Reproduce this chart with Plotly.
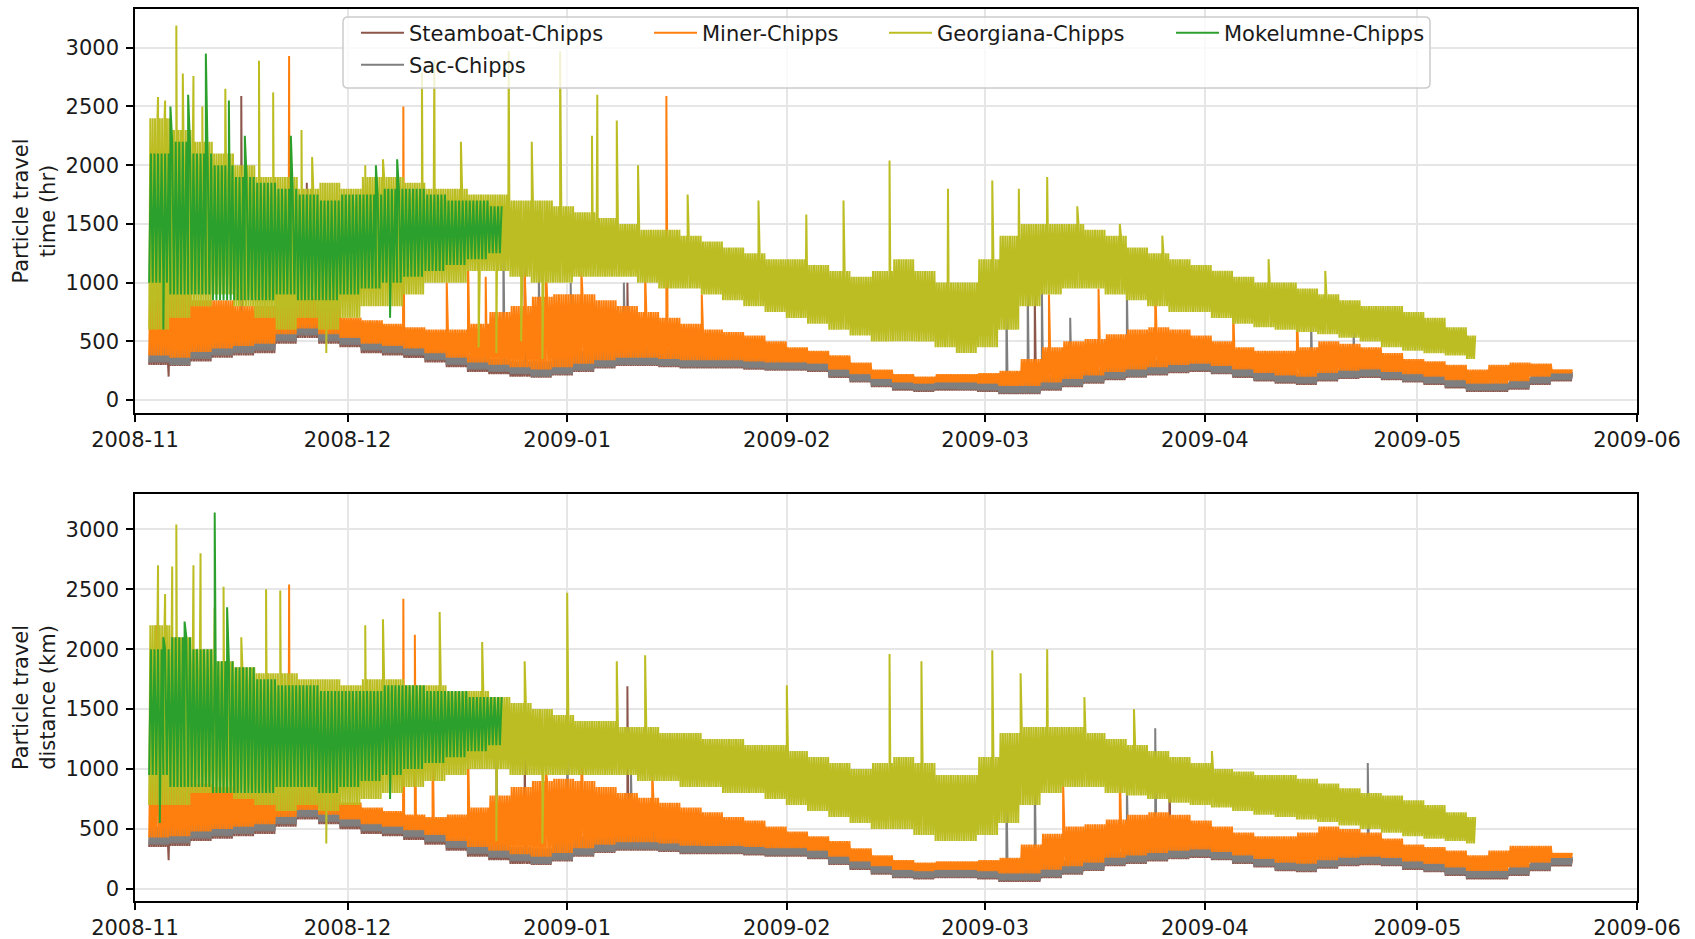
import pandas as pd
import plotly.graph_objects as go

# ---------------- data ----------------
# envelope values per 3-day block starting 2008-11-03 (low / high of the dense band)
block_start = "2008-11-03"
n_blocks = 67
# last timestamp of each record
series_end = ["2009-05-23 00:00", "2009-05-23 00:00", "2009-05-23 00:00", "2009-05-09 06:00", "2008-12-22 18:00"]

# ---- Particle travel time (hr) ----
sac_time_lo = [320,300,350,380,400,420,500,550,500,470,
               420,400,380,340,300,260,240,220,200,220,
               250,280,300,300,290,280,280,280,270,260,
               260,250,200,160,120,90,80,90,90,80,
               60,60,90,120,150,180,200,220,240,250,
               230,200,170,150,140,170,190,200,180,160,
               140,110,80,80,100,140,170]
sac_time_hi = [500,520,550,600,600,650,700,750,700,620,
               560,540,500,480,430,380,350,330,330,380,
               420,450,470,450,430,400,400,400,380,370,
               360,340,300,260,220,180,170,180,170,160,
               140,160,200,230,260,290,320,340,350,340,
               320,300,260,240,230,260,280,290,270,240,
               220,190,160,150,190,230,240]
steam_time_lo = [300,290,330,360,380,400,480,530,480,450,
                 400,380,360,320,280,240,220,200,190,210,
                 240,270,290,290,280,270,270,270,260,250,
                 250,240,190,150,110,80,70,80,80,70,
                 50,50,80,110,140,170,190,210,230,240,
                 220,190,160,140,130,160,180,190,170,150,
                 130,100,70,70,90,130,160]
steam_time_hi = [480,500,530,580,580,620,680,720,680,600,
                 540,520,480,460,410,360,330,310,310,360,
                 400,430,450,430,410,380,380,380,360,350,
                 340,320,280,240,200,160,150,160,150,140,
                 120,140,180,210,240,270,300,320,330,320,
                 300,280,240,220,210,240,260,270,250,220,
                 200,170,140,130,170,210,220]
miner_time_lo = [380,360,410,440,460,480,560,610,560,530,
                 480,460,440,400,360,320,300,280,260,280,
                 310,340,360,360,350,340,340,340,330,320,
                 320,310,260,220,180,150,140,150,150,140,
                 120,120,150,180,210,240,260,280,300,310,
                 290,260,230,210,200,230,250,260,240,220,
                 200,170,140,140,160,200,230]
miner_time_hi = [1000,900,850,850,800,800,850,880,800,700,
                 680,650,620,600,600,650,750,800,880,900,
                 900,850,800,750,700,650,600,580,550,500,
                 450,420,380,320,260,220,200,220,220,230,
                 250,350,450,500,520,560,600,620,600,550,
                 500,450,420,420,450,500,480,450,400,350,
                 330,300,260,300,320,310,260]
geo_time_lo = [600,700,800,900,800,700,600,700,600,700,
               800,800,900,1000,1000,1100,1100,1050,1000,1000,
               1050,1050,1050,1000,950,950,900,850,800,750,
               700,650,600,550,500,500,500,450,400,450,
               600,800,900,950,950,900,850,800,750,750,
               700,650,620,600,580,560,530,500,450,420,
               400,380,350]
geo_time_hi = [2400,2300,2200,2100,2000,1900,1900,1800,1850,1800,
               1900,1900,1850,1800,1800,1750,1750,1700,1700,1650,
               1600,1550,1500,1450,1450,1400,1350,1300,1250,1200,
               1200,1150,1100,1050,1100,1200,1100,1000,1000,1200,
               1400,1500,1500,1500,1450,1400,1300,1250,1200,1150,
               1100,1050,1000,1000,950,900,850,800,800,750,
               700,620,550]
mok_time_lo = [1000,900,900,850,850,850,900,850,850,900,
               950,1000,1050,1100,1150,1200,1250]
mok_time_hi = [2100,2200,2100,2000,1900,1850,1800,1750,1700,1750,
               1750,1800,1800,1750,1700,1700,1650]

# isolated excursions (timestamp, value)
steam_time_spk = [("2008-11-05 18:00", 200), ("2008-11-16 00:00", 2590), ("2008-11-25 06:00", 1850),
                  ("2008-12-26 00:00", 1150), ("2009-01-09 12:00", 1000), ("2009-03-08 00:00", 900)]
sac_time_spk = [("2008-12-23 00:00", 1350), ("2008-12-28 00:00", 1150), ("2009-01-01 12:00", 1000),
                ("2009-01-09 00:00", 1000), ("2009-03-04 00:00", 850), ("2009-03-07 00:00", 1000),
                ("2009-03-09 00:00", 950), ("2009-03-13 00:00", 700), ("2009-03-21 00:00", 950),
                ("2009-04-16 00:00", 700), ("2009-04-22 00:00", 600)]
miner_time_spk = [("2008-11-22 18:00", 2930), ("2008-12-08 21:00", 2500), ("2009-01-15 00:00", 2590),
                  ("2008-12-15 00:00", 1000), ("2008-12-18 00:00", 1200), ("2008-12-20 12:00", 1050),
                  ("2008-12-26 00:00", 1100), ("2008-12-29 00:00", 1150), ("2009-01-03 00:00", 1100),
                  ("2009-01-12 00:00", 1100), ("2009-01-20 00:00", 900), ("2009-03-10 00:00", 900),
                  ("2009-03-17 00:00", 950), ("2009-03-25 00:00", 1000), ("2009-04-05 00:00", 800),
                  ("2009-04-14 00:00", 750)]
geo_time_spk = [("2008-11-04 06:00", 2580), ("2008-11-05 06:00", 2550), ("2008-11-06 20:00", 3190),
                ("2008-11-07 18:00", 2780), ("2008-11-09 06:00", 2760), ("2008-11-10 12:00", 2500),
                ("2008-11-13 18:00", 2650), ("2008-11-18 12:00", 2890), ("2008-11-20 12:00", 2620),
                ("2008-11-24 12:00", 2300), ("2008-11-26 00:00", 2070), ("2008-11-28 00:00", 400),
                ("2008-12-03 12:00", 2000), ("2008-12-06 00:00", 2050), ("2008-12-11 12:00", 2790),
                ("2008-12-13 06:00", 2900), ("2008-12-17 00:00", 2200), ("2008-12-19 12:00", 450),
                ("2008-12-22 00:00", 400), ("2008-12-23 18:00", 2970), ("2008-12-25 12:00", 500),
                ("2008-12-27 00:00", 2200), ("2008-12-28 12:00", 350), ("2008-12-31 00:00", 2970),
                ("2009-01-04 12:00", 2250), ("2009-01-05 06:00", 2600), ("2009-01-08 00:00", 2380),
                ("2009-01-11 00:00", 2000), ("2009-01-18 00:00", 1750), ("2009-01-28 00:00", 1700),
                ("2009-02-03 18:00", 1580), ("2009-02-09 00:00", 1700), ("2009-02-15 12:00", 2040),
                ("2009-02-23 18:00", 1800), ("2009-03-02 00:00", 1870), ("2009-03-05 18:00", 1800),
                ("2009-03-09 18:00", 1900), ("2009-03-14 00:00", 1650), ("2009-03-20 00:00", 1500),
                ("2009-03-26 00:00", 1400), ("2009-04-10 00:00", 1200), ("2009-04-18 00:00", 1100)]
mok_time_spk = [("2008-11-06 00:00", 2500), ("2008-11-08 12:00", 2600), ("2008-11-11 00:00", 2950),
                ("2008-11-14 06:00", 2550), ("2008-11-16 12:00", 2250), ("2008-11-23 00:00", 2250),
                ("2008-12-05 00:00", 2000), ("2008-12-08 00:00", 2050), ("2008-11-05 00:00", 600),
                ("2008-12-07 00:00", 700)]

# ---- Particle travel distance (km) ----
sac_dist_lo = [370,380,420,440,460,480,540,600,560,520,
               480,460,430,390,340,290,260,230,210,240,
               280,310,330,330,320,300,300,300,290,280,
               280,260,210,170,130,100,90,100,100,90,
               70,70,100,130,160,200,220,240,260,270,
               250,220,190,160,150,180,200,210,200,170,
               150,120,90,90,120,160,200]
sac_dist_hi = [520,560,600,620,640,660,700,750,700,650,
               600,580,550,520,470,420,380,350,340,400,
               440,470,490,480,460,430,420,420,400,390,
               380,360,320,270,230,190,180,190,180,170,
               150,170,210,240,280,310,340,360,370,360,
               340,320,280,260,250,280,300,310,290,260,
               240,200,170,170,210,260,270]
steam_dist_lo = [350,360,400,420,440,460,520,580,540,500,
                 460,440,410,370,320,270,240,210,200,230,
                 270,300,320,320,310,290,290,290,280,270,
                 270,250,200,160,120,90,80,90,90,80,
                 60,60,90,120,150,190,210,230,250,260,
                 240,210,180,150,140,170,190,200,190,160,
                 140,110,80,80,110,150,190]
steam_dist_hi = [500,540,580,600,620,640,680,730,680,630,
                 580,560,530,500,450,400,360,330,320,380,
                 420,450,470,460,440,410,400,400,380,370,
                 360,340,300,250,210,170,160,170,160,150,
                 130,150,190,220,260,290,320,340,350,340,
                 320,300,260,240,230,260,280,290,270,240,
                 220,180,150,150,190,240,250]
miner_dist_lo = [430,440,480,500,520,540,600,660,620,580,
                 540,520,490,450,400,350,320,290,270,300,
                 340,370,390,390,380,360,360,360,350,340,
                 340,320,270,230,190,160,150,160,160,150,
                 130,130,160,190,220,260,280,300,320,330,
                 310,280,250,220,210,240,260,270,260,230,
                 210,180,150,150,180,220,260]
miner_dist_hi = [1100,950,880,850,800,800,850,850,800,720,
                 680,650,620,600,620,680,780,850,900,920,
                 900,850,800,760,720,680,640,600,570,520,
                 480,440,400,340,280,240,220,230,230,240,
                 260,370,460,520,540,580,620,640,620,570,
                 520,470,440,440,470,520,500,470,420,370,
                 350,320,280,320,360,360,300]
geo_dist_lo = [700,700,800,800,750,700,650,700,650,700,
               750,800,850,900,950,1000,1000,950,950,950,
               950,950,950,900,900,850,850,800,800,750,
               700,650,600,550,500,500,450,400,400,450,
               550,700,800,850,850,800,780,750,720,700,
               680,650,620,600,580,560,530,500,470,440,
               420,400,380]
geo_dist_hi = [2200,2100,2000,1900,1850,1800,1800,1750,1750,1700,
               1750,1750,1700,1700,1650,1650,1600,1550,1500,1450,
               1400,1400,1350,1350,1300,1300,1250,1250,1200,1200,
               1150,1100,1050,1000,1050,1100,1050,950,950,1100,
               1300,1350,1350,1350,1300,1250,1200,1150,1100,1050,
               1000,980,950,950,920,880,840,800,780,740,
               700,640,600]
mok_dist_lo = [950,850,850,800,800,800,850,850,800,850,
               900,950,1000,1050,1100,1150,1200]
mok_dist_hi = [2000,2100,2000,1900,1850,1750,1700,1700,1650,1650,
               1650,1700,1700,1650,1650,1600,1600]

steam_dist_spk = [("2008-11-05 18:00", 240), ("2008-11-15 00:00", 1500), ("2008-12-26 00:00", 1150),
                  ("2009-01-09 12:00", 1690), ("2009-03-27 00:00", 1000)]
sac_dist_spk = [("2008-12-22 00:00", 1500), ("2009-01-01 00:00", 1500), ("2009-01-10 00:00", 1000),
                ("2009-03-04 00:00", 900), ("2009-03-08 00:00", 1000), ("2009-03-21 00:00", 900),
                ("2009-03-25 00:00", 1340), ("2009-04-24 00:00", 1050)]
miner_dist_spk = [("2008-11-04 00:00", 2200), ("2008-11-22 18:00", 2540), ("2008-12-08 21:00", 2420),
                  ("2008-12-10 12:00", 2120), ("2008-12-13 00:00", 1350), ("2008-12-18 00:00", 1200),
                  ("2008-12-29 00:00", 1000), ("2009-01-03 00:00", 1200), ("2009-01-13 00:00", 1000),
                  ("2009-03-12 00:00", 900), ("2009-03-20 00:00", 1000)]
geo_dist_spk = [("2008-11-04 06:00", 2700), ("2008-11-05 06:00", 2460), ("2008-11-06 06:00", 2690),
                ("2008-11-06 20:00", 3040), ("2008-11-09 06:00", 2700), ("2008-11-10 06:00", 2800),
                ("2008-11-12 06:00", 2350), ("2008-11-13 12:00", 2520), ("2008-11-16 00:00", 2100),
                ("2008-11-19 12:00", 2500), ("2008-11-21 12:00", 2490), ("2008-11-28 00:00", 380),
                ("2008-12-03 12:00", 2200), ("2008-12-06 00:00", 2250), ("2008-12-14 00:00", 2310),
                ("2008-12-20 00:00", 2060), ("2008-12-22 00:00", 400), ("2008-12-26 00:00", 1900),
                ("2008-12-28 12:00", 380), ("2009-01-01 00:00", 2470), ("2009-01-08 00:00", 1900),
                ("2009-01-12 00:00", 1950), ("2009-02-01 00:00", 1700), ("2009-02-15 12:00", 1960),
                ("2009-02-20 00:00", 1900), ("2009-03-02 00:00", 1990), ("2009-03-06 00:00", 1800),
                ("2009-03-09 18:00", 2000), ("2009-03-15 00:00", 1600), ("2009-03-22 00:00", 1500),
                ("2009-04-02 00:00", 1150)]
mok_dist_spk = [("2008-11-05 00:00", 2100), ("2008-11-08 00:00", 2230), ("2008-11-12 06:00", 3140),
                ("2008-11-14 00:00", 2350), ("2008-11-04 12:00", 550), ("2008-12-07 00:00", 750)]

names = ["Steamboat-Chipps", "Sac-Chipps", "Miner-Chipps", "Georgiana-Chipps", "Mokelumne-Chipps"]
colors = ["#8c564b", "#7f7f7f", "#ff7f0e", "#bcbd22", "#2ca02c"]
legend_ids = ["legend", "legend5", "legend2", "legend3", "legend4"]
legend_rank = [1, 5, 2, 3, 4]
sample_hours = [4, 4, 4, 4, 6]   # spacing of samples inside a block, per series
y_ticks = [0, 500, 1000, 1500, 2000, 2500, 3000]

time_series = [(steam_time_lo, steam_time_hi, steam_time_spk), (sac_time_lo, sac_time_hi, sac_time_spk),
               (miner_time_lo, miner_time_hi, miner_time_spk), (geo_time_lo, geo_time_hi, geo_time_spk),
               (mok_time_lo, mok_time_hi, mok_time_spk)]
dist_series = [(steam_dist_lo, steam_dist_hi, steam_dist_spk), (sac_dist_lo, sac_dist_hi, sac_dist_spk),
               (miner_dist_lo, miner_dist_hi, miner_dist_spk), (geo_dist_lo, geo_dist_hi, geo_dist_spk),
               (mok_dist_lo, mok_dist_hi, mok_dist_spk)]

# ---------------- build traces ----------------
blocks = pd.date_range(block_start, periods=n_blocks, freq="3D")


def build(lo, hi, spikes, end, step_h):
    end = pd.Timestamp(end)
    pts = []
    for start, l, h in zip(blocks, lo, hi):
        for i in range(72 // step_h):  # samples alternate between band low and high
            t = start + pd.Timedelta(hours=step_h * i)
            if t <= end:
                pts.append((t, l if i % 2 == 0 else h))
    for d, v in spikes:
        pts.append((pd.Timestamp(d), v))
    pts.sort(key=lambda p: p[0])
    return [p[0] for p in pts], [p[1] for p in pts]


fig = go.Figure()
for panel, series in ((1, time_series), (2, dist_series)):
    for k, (lo, hi, spk) in enumerate(series):
        xs, ys = build(lo, hi, spk, series_end[k], sample_hours[k])
        fig.add_trace(go.Scatter(
            x=xs, y=ys, mode="lines", name=names[k],
            line=dict(color=colors[k], width=2.0, simplify=False),
            xaxis="x" if panel == 1 else "x2", yaxis="y" if panel == 1 else "y2",
            showlegend=(panel == 1), legend=legend_ids[k], legendrank=legend_rank[k],
            hoverinfo="skip"))

# ---------------- layout ----------------
W, H = 1695, 939
ML, MR, MT, MB = 135, 58, 9, 38
PW, PH = W - ML - MR, H - MT - MB
FONT = "DejaVu Sans"
FS = 21


def px_x(px):
    return (px - ML) / PW


def px_y(py):
    return (H - MB - py) / PH


xax = dict(type="date", range=["2008-11-01", "2009-06-01"], dtick="M1", tickformat="%Y-%m",
           showgrid=True, gridcolor="#e6e6e6", gridwidth=1.5, showline=True, linecolor="black",
           linewidth=1.6, mirror=True, ticks="outside", ticklen=7, tickwidth=1.6, tickcolor="black",
           zeroline=False, automargin=False, tickfont=dict(family=FONT, size=FS, color="#1a1a1a"))
yax = dict(tickvals=y_ticks, showgrid=True, gridcolor="#e6e6e6", gridwidth=1.5, showline=True,
           linecolor="black", linewidth=1.6, mirror=True, ticks="outside", ticklen=7, tickwidth=1.6,
           tickcolor="black", zeroline=False, automargin=False,
           tickfont=dict(family=FONT, size=FS, color="#1a1a1a"), ticklabelstandoff=3)

fig.update_layout(
    width=W, height=H, margin=dict(l=ML, r=MR, t=MT, b=MB, autoexpand=False),
    paper_bgcolor="white", plot_bgcolor="white",
    font=dict(family=FONT, size=FS, color="#1a1a1a"),
    xaxis=dict(xax, domain=[0, 1], anchor="y"),
    yaxis=dict(yax, domain=[px_y(413), 1], range=[-110, 3330], anchor="x",
               title=dict(text="Particle travel<br>time (hr)", standoff=4,
                          font=dict(family=FONT, size=FS))),
    xaxis2=dict(xax, domain=[0, 1], anchor="y2"),
    yaxis2=dict(yax, domain=[0, px_y(494)], range=[-100, 3294], anchor="x2",
                title=dict(text="Particle travel<br>distance (km)", standoff=4,
                           font=dict(family=FONT, size=FS))),
    hovermode=False,
)

# legend frame (rounded, semi-transparent)
x0, x1 = px_x(343), px_x(1430)
ya, yb = px_y(88), px_y(17)
rx, ry = 5 / PW, 5 / PH
path = (f"M{x0+rx},{yb} L{x1-rx},{yb} Q{x1},{yb} {x1},{yb-ry} L{x1},{ya+ry} Q{x1},{ya} {x1-rx},{ya} "
        f"L{x0+rx},{ya} Q{x0},{ya} {x0},{ya+ry} L{x0},{yb-ry} Q{x0},{yb} {x0+rx},{yb} Z")
fig.add_shape(type="path", path=path, xref="paper", yref="paper", layer="above",
              fillcolor="rgba(255,255,255,0.8)", line=dict(color="#cccccc", width=1.5))

leg_common = dict(xref="paper", yref="paper", xanchor="left", yanchor="middle",
                  bgcolor="rgba(0,0,0,0)", borderwidth=0, itemwidth=43,
                  font=dict(family=FONT, size=FS, color="#1a1a1a"))
leg_pos = {"legend": (356, 33), "legend2": (649, 33), "legend3": (884, 33),
           "legend4": (1171, 33), "legend5": (356, 65)}
fig.update_layout({lid: dict(leg_common, x=px_x(px), y=px_y(py)) for lid, (px, py) in leg_pos.items()})

fig.write_html("out.html")
